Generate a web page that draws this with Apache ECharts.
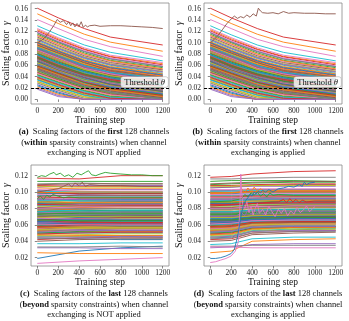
<!DOCTYPE html>
<html>
<head>
<meta charset="utf-8">
<script src="https://cdn.jsdelivr.net/npm/echarts/dist/echarts.min.js"></script>
<style>
html,body{margin:0;padding:0;background:#fff;}
#main{width:349px;height:321px;}
</style>
</head>
<body>
<div id="main"></div>
<script>
// matplotlib tab10 cycle, channel i gets palette[i % 10]
var palette = ['#1f77b4','#ff7f0e','#2ca02c','#d62728','#9467bd','#8c564b','#e377c2','#7f7f7f','#bcbd22','#17becf'];

var stepTicks = [0,200,400,600,800,1000,1200];
var firstTicks = [0,0.02,0.04,0.06,0.08,0.10,0.12,0.14,0.16];
var lastTicks = [0.02,0.04,0.06,0.08,0.10,0.12];
var threshold = 0.02;

// first 128 channels (values x1000), read at these steps; null = noisy channel drawn below
var firstSteps = [0,200,450,700,1200];
var firstLines = [
[118,102,85,72,58],[151,134,115,101,85],[96,81,64,52,40],[161,144,125,110,96],[72,58,42,31,19],
null,[141,125,106,93,76],[88,73,57,45,33],[64,50,35,24,12],[130,114,96,83,68],
[58,44,29,19,7],[123,107,89,76,63],[84,69,53,42,29],[47,34,19,9,0],[91,76,60,48,35],
[69,55,39,28,16],[112,97,79,67,53],[38,25,10,1,0],[79,65,48,37,25],[104,89,72,60,46],
[62,48,33,22,10],[86,71,55,44,31],[53,39,24,14,3],[99,84,67,55,42],[75,61,45,34,21],
[44,31,16,6,0],[81,67,50,39,27],[66,52,36,26,14],[108,93,75,63,50],[57,43,28,18,6],
[93,78,61,50,37],[32,19,5,0,0],[77,63,47,35,23],[121,105,88,75,61],[68,54,38,28,15],
[87,72,56,44,32],[50,37,22,12,1],[73,59,43,32,20],[95,80,63,52,39],[60,46,31,20,9],
[26,13,0,0,0],[83,68,52,41,28],[115,100,82,69,56],[70,56,40,29,17],[55,41,26,16,4],
[89,74,58,46,34],[41,28,13,3,0],[101,86,69,57,44],[76,62,46,35,22],[63,49,34,23,11],
[85,70,54,43,30],[36,23,8,0,0],[71,57,41,30,18],[92,77,61,49,36],[20,7,0,0,0],
[59,45,30,20,8],[80,66,49,38,26],[106,91,74,61,48],[49,36,21,11,0],[74,60,44,33,21],
[90,75,59,47,34],[65,51,35,25,13],[29,16,2,0,0],[82,68,51,40,28],[97,82,65,53,40],
[56,42,27,17,5],[119,103,86,73,59],[67,53,37,27,15],[45,32,17,7,0],[78,64,48,36,24],
[35,22,8,0,0],[94,79,62,51,38],[61,47,32,21,9],[86,72,56,43,30],[52,38,23,13,2],
[110,95,77,65,52],[71,56,40,31,19],[40,27,12,3,0],[83,69,53,40,27],[66,53,37,25,13],
[24,11,0,0,0],[98,83,66,54,41],[58,45,30,18,6],[76,61,45,36,23],[88,74,58,46,32],
[48,35,20,10,0],[69,54,38,29,17],[117,101,84,71,58],[31,18,4,0,0],[80,66,50,39,27],
[63,50,35,22,10],[102,87,70,58,45],[43,30,15,5,0],[73,58,42,33,21],[84,70,54,41,28],
[54,40,25,15,3],[125,109,91,78,65],[77,62,46,36,24],[37,24,9,0,0],[92,78,60,48,37],
[68,55,39,27,14],[22,9,0,0,0],[81,66,51,40,26],[59,46,31,19,7],[106,90,73,62,49],
[72,57,43,32,18],[46,33,18,8,0],[89,75,57,45,33],[64,51,34,25,12],[34,21,7,0,0],
[79,64,49,38,24],[113,98,80,68,54],[51,37,22,12,1],[75,60,44,35,22],[62,49,32,23,11],
[96,82,65,51,39],[28,15,1,0,0],[70,55,41,30,16],[85,71,53,42,31],[42,29,14,4,0],
[100,85,68,56,43],[57,44,27,17,5],[74,59,45,32,20],[39,26,11,2,0],[18,5,0,0,0],
[67,52,38,26,14],[87,73,55,45,31],[52,39,24,12,1]
];

// channel 5 (brown), the one that grows
var brownNoExSteps = [0,40,80,120,160,190,220,250,280,300,320,340,360,380,400,420,440,460,480,500,550,600,700,800,900,1000,1100,1200];
var brownNoExVals  = [100,104,111,120,131,141,136,139,132,137,130,135,128,134,129,137,127,131,128,130,131,129,130,130,129,128,127,125];
var brownExSteps = [0,40,80,120,160,200,230,260,290,320,350,380,410,440,460,480,500,550,600,650,700,750,800,900,1000,1100,1200];
var brownExVals  = [100,106,114,124,134,142,147,143,146,144,149,145,151,147,161,156,153,152,153,151,155,152,153,152,152,151,151];

// last 128 channels, no exchange
var lastNoExSteps = [0,400,800,1200];
var lastNoExLines = [
[19,28,32,34],[26,25,25,25],null,[117,116,120,120],[32,32,31,31],
null,[13,16,18,20],[33,33,34,33],[102,101,100,100],[37,37,38,38],
[44,43,42,42],[52,54,55,55],null,[56,57,58,58],[95,97,98,98],
[61,62,60,61],[72,74,73,73],[110,111,110,110],[84,82,82,83],[46,46,46,45],
[66,67,68,69],[105,104,104,104],[113,113,113,113],[77,79,80,80],[48,51,52,52],
[88,90,89,89],[59,58,57,57],[69,71,72,71],[91,92,92,92],[54,54,53,53],
[80,78,77,77],[63,62,62,63],[99,98,98,98],[42,44,45,45],[75,76,77,77],
[64,66,67,67],[86,86,85,85],[50,51,51,51],[70,69,68,68],[96,95,95,95],
[58,59,60,60],[79,81,82,82],[67,66,66,66],[108,107,107,107],[53,55,56,56],
[73,75,76,76],[93,92,92,92],[61,60,60,60],[45,46,47,47],[83,84,84,84],
[98,99,99,99],[57,56,56,56],[74,73,73,73],[66,68,69,69],[102,103,103,103],
[40,42,43,43],[81,80,80,80],[62,63,64,64],[89,89,89,89],[51,50,50,50],
[71,72,72,72],[85,87,88,88],[59,61,61,61],[100,98,98,98],[76,75,75,75],
[55,57,58,58],[64,65,65,65],[92,94,94,94],[47,48,49,49],[78,77,77,77],
[68,66,65,65],[53,52,52,52],[87,86,86,86],[60,62,63,63],[106,108,108,108],
[70,71,71,71],[97,96,96,96],[43,44,44,44],[82,83,83,83],[65,64,64,64],
[90,91,91,91],[56,58,59,59],[72,70,70,70],[49,50,51,51],[84,85,85,85],
[62,64,65,65],[103,101,101,101],[74,75,75,75],[58,57,57,57],[89,90,90,90],
[67,69,70,70],[78,79,80,80],[50,52,53,53],[94,93,93,93],[63,62,62,62],
[81,82,83,83],[55,54,54,54],[71,73,73,73],[107,106,106,106],[60,59,59,59],
[86,88,88,88],[48,47,47,47],[76,77,78,78],[65,63,63,63],[91,91,90,90],
[57,59,60,60],[80,82,82,82],[52,54,55,55],[69,70,70,70],[101,100,100,100],
[62,61,61,61],[88,87,87,87],[73,74,74,74],[58,60,61,61],[45,45,46,46],
[95,96,96,96],[68,67,67,67],[84,86,86,86],[54,56,56,56],[76,78,78,78],
[64,66,66,66],[99,100,100,100],[66,65,65,65],[85,84,84,84],[51,53,53,53],
[109,110,110,110],[61,60,60,60],[79,80,80,80]
];
var greenTopNoExSteps = [0,40,80,120,160,180,220,260,300,340,380,420,460,490,520,560,600,650,700,800,900,1000,1100,1200];
var greenTopNoExVals  = [118,120,119,122,124,121,123,119,121,118,123,121,124,126,121,120,122,124,123,122,121,121,120,120];
var brownLastNoExSteps = [0,100,200,250,300,330,360,400,430,460,500,600,800,1000,1200];
var brownLastNoExVals  = [100,102,104,107,110,106,111,108,112,107,109,108,108,107,107];
var greenMidNoExSteps = [0,30,60,90,120,150,200,250,300,400,800,1200];
var greenMidNoExVals  = [92,95,91,96,94,97,95,93,94,93,93,93];

// last 128 channels, with exchange
var lastExSteps = [0,200,400,800,1200];
var lastExLines = [
null,[26,28,40,42,43],[113,114,114,114,113],[118,119,122,125,126],[32,33,36,37,37],
[105,106,108,109,109],null,[34,34,35,35,35],[101,102,103,103,103],[36,37,43,45,45],
[44,45,52,54,55],[52,53,59,61,62],null,[56,57,62,64,64],null,
[61,62,66,67,68],[72,72,75,76,76],[116,116,117,118,118],[84,84,85,86,86],[46,47,53,55,56],
[66,66,69,70,71],null,[109,110,111,112,112],null,[48,49,55,57,57],
[88,88,90,91,91],[59,60,64,65,65],[69,69,71,72,72],[91,91,92,93,93],[54,55,59,60,60],
[80,80,81,82,82],[63,64,66,67,67],[99,99,100,100,100],[42,43,50,52,53],[75,75,77,78,78],
[64,64,67,68,68],[86,86,87,87,87],[50,51,56,57,57],[70,70,72,73,73],[96,96,97,97,97],
[58,59,63,64,64],[79,79,81,82,82],[67,67,69,70,70],[108,108,109,110,110],[53,54,59,60,60],
[73,73,75,76,76],[93,93,94,94,94],[61,62,65,66,66],[45,46,52,54,54],[83,83,84,85,85],
[98,98,99,99,99],[57,58,63,64,64],[74,74,76,77,77],[66,66,69,70,70],[102,102,103,103,103],
[40,41,48,50,51],[81,81,83,84,84],[62,63,66,67,67],[89,89,90,90,90],[51,52,57,58,58],
[71,71,73,74,74],[85,85,87,88,88],[59,60,63,64,64],[100,100,101,101,101],[76,76,78,79,79],
[55,56,61,62,62],[64,64,67,68,68],[92,92,93,94,94],[47,48,54,56,56],[78,78,80,81,81],
[68,68,70,71,71],[53,54,59,61,61],[87,87,88,89,89],[60,61,64,65,65],[106,106,107,107,107],
[70,70,72,73,73],[97,97,98,98,98],[43,44,50,52,52],[82,82,84,85,85],[65,65,68,69,69],
[90,90,91,92,92],[56,57,61,63,63],[72,72,74,75,75],[49,50,56,57,58],[84,84,86,86,86],
[62,63,66,67,67],[103,103,104,104,104],[74,74,76,77,77],[58,59,62,63,63],[89,89,90,90,90],
[67,67,70,71,71],[78,78,80,81,81],[50,51,56,58,58],[94,94,95,95,95],[63,64,66,67,67],
[81,81,83,84,84],[55,56,60,61,61],[71,71,73,74,74],[107,107,108,108,108],[60,61,64,65,65],
[86,86,87,88,88],[48,49,55,57,57],[76,76,78,79,79],[65,65,68,69,69],[91,91,92,92,92],
[57,58,62,63,63],[80,80,82,83,83],[52,53,58,59,59],[69,69,71,72,72],[101,101,102,102,102],
[62,63,66,67,67],[88,88,89,90,90],[73,73,75,76,76],[58,59,63,64,64],[45,46,52,53,53],
[95,95,96,96,96],[33,33,32,32,32],[84,84,86,86,86],[54,55,60,61,61],[76,76,78,79,79],
[64,65,67,68,68],[99,99,100,100,100],[66,66,68,69,69],[85,85,86,87,87],[51,52,57,58,58],
[110,111,112,113,113],[61,62,65,66,66],[79,79,81,82,82]
];
var blueExSteps = [0,50,100,150,200,230,260,280,300,320,340,360,380,400,420,440,460,480,500,530,560,600,650,700,750,800,850,880,900,920,950,1000];
var blueExVals  = [19,19,20,22,25,30,45,60,75,85,90,93,97,95,100,98,101,99,102,100,103,100,104,105,107,106,109,107,112,109,111,112];
var pinkExSteps = [0,50,100,150,200,240,270,285,292,300,310,330,350,370,390,410,430,450,470,500,530,560,590,620,650,680,710,740,770,800,830,860,890,920,950,980,1000];
var pinkExVals  = [14,15,17,19,22,28,40,90,122,100,85,80,88,75,83,72,80,86,74,79,72,83,76,70,79,74,80,71,77,73,81,75,78,83,76,80,82];
var greenExSteps = [0,200,300,330,360,390,420,450,480,510,540,570,600,650,800,1200];
var greenExVals  = [88,89,92,97,94,99,96,100,95,98,94,99,96,97,96,96];
var orangeExSteps = [0,200,280,300,330,360,390,420,450,480,520,600,800,1200];
var orangeExVals  = [98,99,100,104,99,105,100,106,101,104,101,102,102,102];
var redExSteps = [0,300,500,650,700,730,760,790,820,850,880,920,1000,1200];
var redExVals  = [83,85,87,88,91,87,92,88,91,87,90,88,89,89];
var purpleExSteps = [0,250,300,330,360,390,420,450,480,510,540,580,620,700,900,1200];
var purpleExVals  = [70,71,75,71,78,73,79,74,78,72,77,74,78,76,76,76];

var SERIF = 'Liberation Serif';
var myChart = echarts.init(document.getElementById('main'));

function lineSeries(gi, steps, vals, color){
	var data = [];
	for(var k=0;k<steps.length;k++){
		data.push([steps[k], vals[k]/1000]);
	}
	return {
		type:'line', xAxisIndex:gi, yAxisIndex:gi, data:data,
		symbol:'none', silent:true, animation:false,
		lineStyle:{color:color, width:0.9}
	};
}

function panelSeries(gi, steps, lines, noisy){
	var out = [];
	for(var i=0;i<lines.length;i++){
		if(!lines[i]) continue;
		out.push(lineSeries(gi, steps, lines[i], palette[i%10]));
	}
	// noisy channels on top, like in the figure
	for(var j=0;j<noisy.length;j++){
		out.push(lineSeries(gi, noisy[j][1], noisy[j][2], palette[noisy[j][0]%10]));
	}
	return out;
}

function thresholdSeries(gi){
	return {
		type:'line', xAxisIndex:gi, yAxisIndex:gi, data:[], silent:true, z:5,
		markLine:{
			symbol:'none', silent:true, animation:false,
			data:[{yAxis:threshold}],
			lineStyle:{color:'#000', type:[3,2], width:1.1},
			label:{
				position:'insideEndTop', distance:1,
				formatter:'Threshold {i|θ}',
				fontFamily:SERIF, fontSize:8.5, color:'#111',
				backgroundColor:'rgba(255,255,255,0.8)', borderColor:'#bbb', borderWidth:0.6, borderRadius:2,
				padding:[1,3,0,3],
				rich:{i:{fontFamily:SERIF, fontSize:8.5, fontStyle:'italic', color:'#111'}}
			}
		}
	};
}

function xAxisOpt(gi){
	return {
		gridIndex:gi, type:'value', min:-60, max:1260,
		name:'Training step', nameLocation:'middle', nameGap:11,
		nameTextStyle:{fontFamily:SERIF, fontSize:9.5, color:'#111'},
		axisLine:{show:false}, splitLine:{show:false},
		axisTick:{show:true, customValues:stepTicks, length:2.5, lineStyle:{color:'#555', width:0.7}},
		axisLabel:{customValues:stepTicks, fontFamily:SERIF, fontSize:7.5, color:'#222', margin:3,
			formatter:function(v){ return String(v); }}
	};
}

function yAxisOpt(gi, min, max, ticks){
	return {
		gridIndex:gi, type:'value', min:min, max:max,
		name:'Scaling factor  {g|γ}', nameLocation:'middle', nameGap:16,
		nameTextStyle:{fontFamily:SERIF, fontSize:10, color:'#111',
			rich:{g:{fontFamily:SERIF, fontSize:10, fontStyle:'italic', color:'#111'}}},
		axisLine:{show:false}, splitLine:{show:false},
		axisTick:{show:true, customValues:ticks, length:2.5, lineStyle:{color:'#555', width:0.7}},
		axisLabel:{customValues:ticks, fontFamily:SERIF, fontSize:7.5, color:'#222', margin:3,
			formatter:function(v){ return v.toFixed(2); }}
	};
}

function caption(cx, y0, lines){
	var els = [];
	for(var i=0;i<lines.length;i++){
		els.push({
			type:'text', x:cx, y:y0 + i*10.5, silent:true,
			style:{
				text:lines[i], align:'center', verticalAlign:'middle',
				font:'8.5px "Liberation Serif"', fill:'#111',
				rich:{b:{fontFamily:SERIF, fontSize:8.5, fontWeight:'bold', fill:'#111'}}
			}
		});
	}
	return els;
}

var gridBox = {show:true, borderColor:'#888', borderWidth:0.8, backgroundColor:'transparent'};
var grids = [
	Object.assign({left:28, top:3, width:141, height:101}, gridBox),
	Object.assign({left:204, top:3, width:138, height:101}, gridBox),
	Object.assign({left:28, top:165, width:141, height:101}, gridBox),
	Object.assign({left:204, top:165, width:138, height:101}, gridBox)
];

var series = [];
series = series.concat(panelSeries(0, firstSteps, firstLines, [[5, brownNoExSteps, brownNoExVals]]));
series.push(thresholdSeries(0));
series = series.concat(panelSeries(1, firstSteps, firstLines, [[5, brownExSteps, brownExVals]]));
series.push(thresholdSeries(1));
series = series.concat(panelSeries(2, lastNoExSteps, lastNoExLines, [
	[12, greenMidNoExSteps, greenMidNoExVals],
	[5, brownLastNoExSteps, brownLastNoExVals],
	[2, greenTopNoExSteps, greenTopNoExVals]
]));
series = series.concat(panelSeries(3, lastExSteps, lastExLines, [
	[14, purpleExSteps, purpleExVals],
	[23, redExSteps, redExVals],
	[12, greenExSteps, greenExVals],
	[21, orangeExSteps, orangeExVals],
	[6, pinkExSteps, pinkExVals],
	[0, blueExSteps, blueExVals]
]));

var option = {
	animation:false,
	backgroundColor:'#fff',
	grid:grids,
	xAxis:[xAxisOpt(0), xAxisOpt(1), xAxisOpt(2), xAxisOpt(3)],
	yAxis:[
		yAxisOpt(0, -0.0081, 0.1701, firstTicks),
		yAxisOpt(1, -0.0081, 0.1701, firstTicks),
		yAxisOpt(2, 0.0098, 0.133, lastTicks),
		yAxisOpt(3, 0.0098, 0.133, lastTicks)
	],
	series:series,
	graphic:[].concat(
		caption(94, 132, ['{b|(a)}  Scaling factors of the {b|first} 128 channels', '({b|within} sparsity constraints) when channel', 'exchanging is NOT applied']),
		caption(268, 132, ['{b|(b)}  Scaling factors of the {b|first} 128 channels', '({b|within} sparsity constraints) when channel', 'exchanging is applied']),
		caption(94, 294, ['{b|(c)}  Scaling factors of the {b|last} 128 channels', '({b|beyond} sparsity constraints) when channel', 'exchanging is NOT applied']),
		caption(268, 294, ['{b|(d)}  Scaling factors of the {b|last} 128 channels', '({b|beyond} sparsity constraints) when channel', 'exchanging is applied'])
	)
};

myChart.setOption(option);
</script>
</body>
</html>
